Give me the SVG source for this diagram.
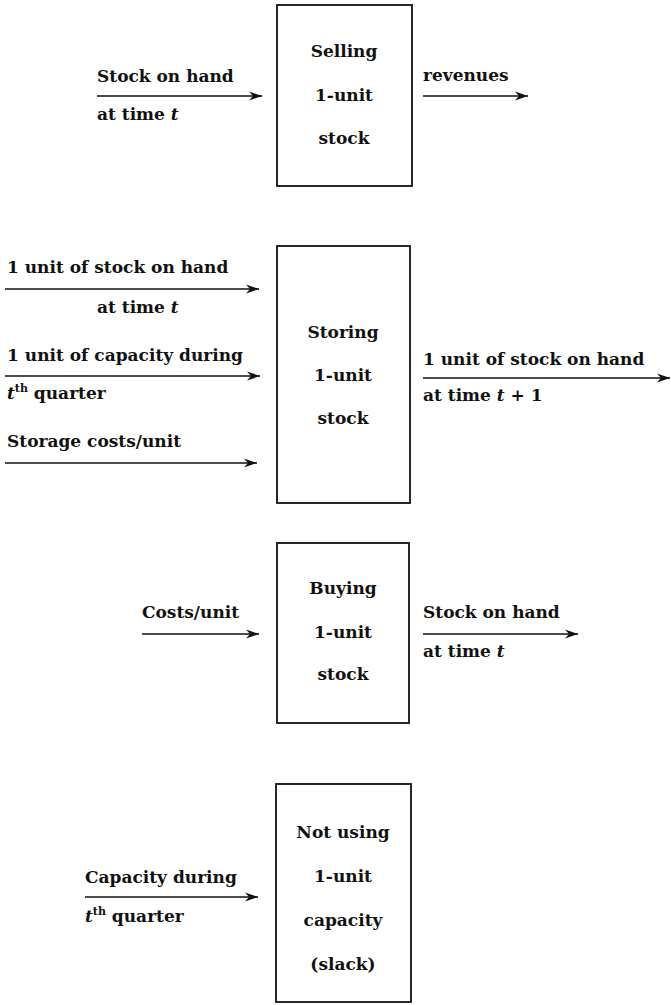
<svg xmlns="http://www.w3.org/2000/svg" width="671" height="1005" viewBox="0 0 671 1005">
  <style>
    text { font-family: "DejaVu Serif", "Liberation Serif", serif; font-weight: bold; font-size: 17px; fill: #111; }
    .c { text-anchor: middle; }
    .i { font-style: italic; }
    .sup { font-size: 11px; }
    .box { fill: none; stroke: #111; stroke-width: 1.8; }
    .arr { stroke: #111; stroke-width: 1.6; fill: none; marker-end: url(#head); }
  </style>
  <defs>
    <marker id="head" markerUnits="userSpaceOnUse" markerWidth="14" markerHeight="10" refX="13" refY="5" orient="auto">
      <path d="M0,0.5 L13,5 L0,9.5 L4,5 Z" fill="#111"/>
    </marker>
  </defs>

  <!-- arrows feeding into and out of the activity boxes -->
  <g id="connectors">
    <line class="arr" x1="97" y1="96" x2="262" y2="96"/>
    <line class="arr" x1="423" y1="96" x2="528" y2="96"/>

    <line class="arr" x1="5" y1="289" x2="259" y2="289"/>
    <line class="arr" x1="5" y1="376" x2="260" y2="376"/>
    <line class="arr" x1="5" y1="463" x2="257" y2="463"/>
    <line class="arr" x1="423" y1="378" x2="670" y2="378"/>

    <line class="arr" x1="142" y1="634" x2="259" y2="634"/>
    <line class="arr" x1="423" y1="634" x2="578" y2="634"/>

    <line class="arr" x1="85" y1="897" x2="258" y2="897"/>
  </g>

  <!-- selling activity -->
  <g id="selling">
    <rect class="box" x="277" y="5" width="135" height="181"/>
    <text class="c" x="344" y="57">Selling</text>
    <text class="c" x="344" y="101">1-unit</text>
    <text class="c" x="344" y="144">stock</text>
    <text x="97" y="82">Stock on hand</text>
    <text x="97" y="120">at time <tspan class="i">t</tspan></text>
    <text x="423" y="81">revenues</text>
  </g>

  <!-- storing activity -->
  <g id="storing">
    <rect class="box" x="277" y="246" width="133" height="257"/>
    <text class="c" x="343" y="338">Storing</text>
    <text class="c" x="343" y="381">1-unit</text>
    <text class="c" x="343" y="424">stock</text>
    <text x="7" y="273">1 unit of stock on hand</text>
    <text x="97" y="313">at time <tspan class="i">t</tspan></text>
    <text x="7" y="361" textLength="236">1 unit of capacity during</text>
    <text x="7" y="399"><tspan class="i">t</tspan><tspan class="sup" dy="-7">th</tspan><tspan dy="7"> quarter</tspan></text>
    <text x="7" y="447">Storage costs/unit</text>
    <text x="423" y="365">1 unit of stock on hand</text>
    <text x="423" y="401">at time <tspan class="i">t</tspan> + 1</text>
  </g>

  <!-- buying activity -->
  <g id="buying">
    <rect class="box" x="277" y="543" width="132" height="180"/>
    <text class="c" x="343" y="594">Buying</text>
    <text class="c" x="343" y="638">1-unit</text>
    <text class="c" x="343" y="680">stock</text>
    <text x="142" y="618">Costs/unit</text>
    <text x="423" y="618">Stock on hand</text>
    <text x="423" y="657">at time <tspan class="i">t</tspan></text>
  </g>

  <!-- idle capacity (slack) activity -->
  <g id="slack">
    <rect class="box" x="276" y="784" width="135" height="218"/>
    <text class="c" x="343" y="838">Not using</text>
    <text class="c" x="343" y="882">1-unit</text>
    <text class="c" x="343" y="926">capacity</text>
    <text class="c" x="343" y="970">(slack)</text>
    <text x="85" y="883">Capacity during</text>
    <text x="85" y="922"><tspan class="i">t</tspan><tspan class="sup" dy="-7">th</tspan><tspan dy="7"> quarter</tspan></text>
  </g>
</svg>
